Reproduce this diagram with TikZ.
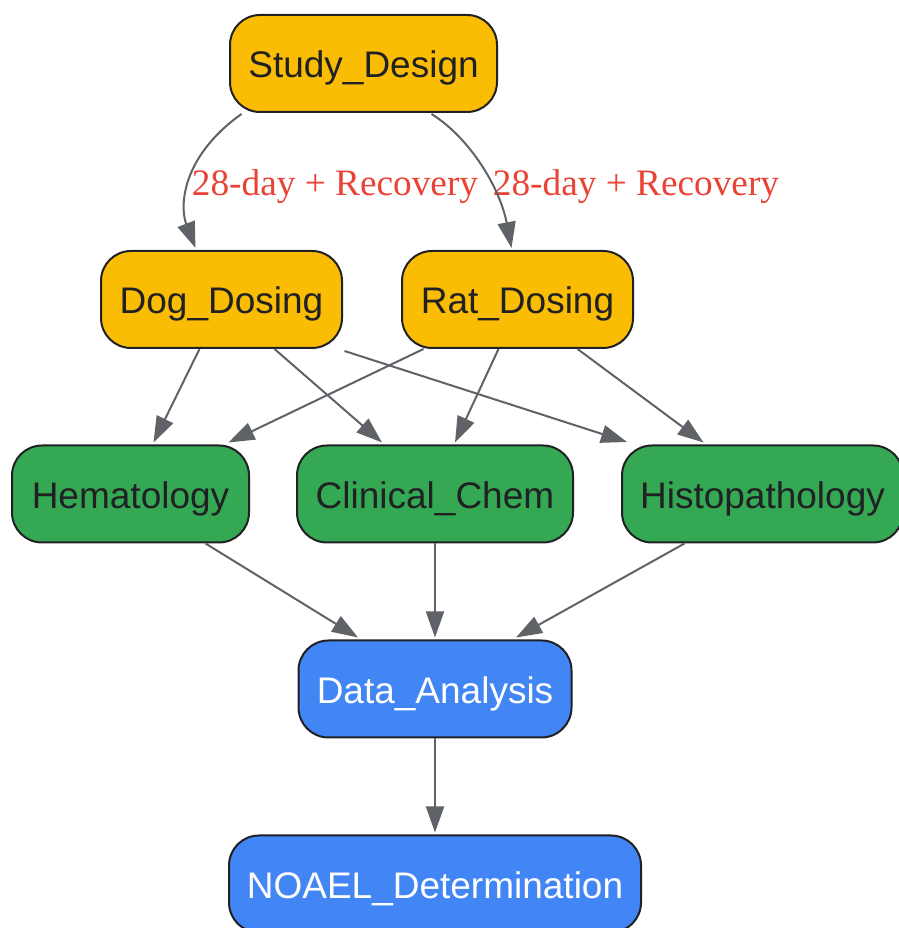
\documentclass[tikz,border=0pt]{standalone}
\usepackage{fontspec}
\setmainfont{Liberation Serif}
\newfontfamily\nodefont{Liberation Sans}
\usetikzlibrary{arrows.meta}
\definecolor{gyellow}{RGB}{251,188,4}
\definecolor{ggreen}{RGB}{52,168,83}
\definecolor{gblue}{RGB}{66,133,244}
\definecolor{gedge}{RGB}{95,99,104}
\definecolor{gred}{RGB}{234,67,53}
\definecolor{gdark}{RGB}{32,33,36}
\tikzset{
  box/.style={draw=gdark, line width=2pt, rounded corners=30pt, minimum height=97pt,
    inner sep=0pt, text height=29pt, text depth=0pt,
    font=\nodefont\fontsize{37}{40}\selectfont, text=gdark},
  ybox/.style={box, fill=gyellow},
  gbox/.style={box, fill=ggreen},
  bbox/.style={box, fill=gblue, text=white},
  conn/.style={draw=gedge, line width=2pt, -{Triangle[length=26pt,width=18pt]}},
  elabel/.style={text=gred, font=\fontsize{37.3}{40}\selectfont, inner sep=0pt}
}
\begin{document}
\begin{tikzpicture}[x=1pt,y=1pt]
\useasboundingbox (0,0) rectangle (898,928);
\node[ybox, minimum width=267pt] (study) at (363.5,864.5) {Study\_Design};
\node[ybox, minimum width=241pt] (dog) at (221.5,628.5) {Dog\_Dosing};
\node[ybox, minimum width=231pt] (rat) at (517.5,628.5) {Rat\_Dosing};
\node[gbox, minimum width=237pt] (hema) at (130.5,434) {Hematology};
\node[gbox, minimum width=276pt] (clin) at (435,434) {Clinical\_Chem};
\node[gbox, minimum width=281pt] (histo) at (762.5,434) {Histopathology};
\node[bbox, minimum width=273pt] (data) at (435,239) {Data\_Analysis};
\node[bbox, minimum width=412pt] (noael) at (435,44) {NOAEL\_Determination};

\node[elabel] (l1) at (335,741) {28-day + Recovery};
\node[elabel] (l2) at (636,741) {28-day + Recovery};

\draw[conn] ([xshift=-122pt,yshift=-1pt]study.south) .. controls (180,770) and (180,720) .. ([xshift=-26pt,yshift=2pt]dog.north);
\draw[conn] ([xshift=68pt,yshift=-1pt]study.south) .. controls (470,790) and (500,740) .. ([xshift=-6pt,yshift=2pt]rat.north);

\draw[conn] ([xshift=-22pt]dog.south) -- ([xshift=23pt,yshift=2pt]hema.north);
\draw[conn] ([xshift=53pt]dog.south) -- ([xshift=-53pt,yshift=2pt]clin.north);
\draw[conn] ([xshift=1.5pt,yshift=-2pt]dog.south east) -- ([xshift=6pt,yshift=2.5pt]histo.north west);
\draw[conn] ([xshift=-94pt]rat.south) -- ([xshift=98pt,yshift=2pt]hema.north);
\draw[conn] ([xshift=-19pt]rat.south) -- ([xshift=20pt,yshift=2pt]clin.north);
\draw[conn] ([xshift=60pt]rat.south) -- ([xshift=-59pt,yshift=2pt]histo.north);

\draw[conn] ([xshift=75pt]hema.south) -- ([xshift=-77pt,yshift=2pt]data.north);
\draw[conn] (clin.south) -- ([yshift=2pt]data.north);
\draw[conn] ([xshift=-78pt]histo.south) -- ([xshift=81pt,yshift=2pt]data.north);
\draw[conn] (data.south) -- ([yshift=2pt]noael.north);
\end{tikzpicture}
\end{document}
